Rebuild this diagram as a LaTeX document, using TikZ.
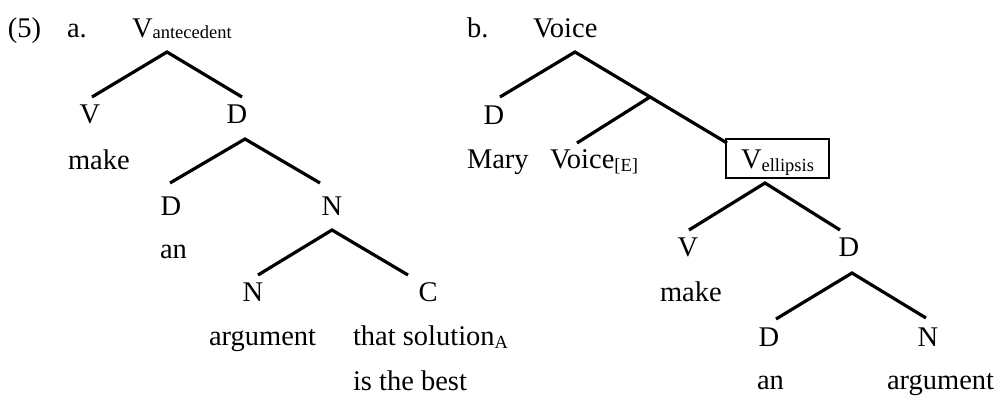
\documentclass[tikz,border=0pt]{standalone}
\usepackage{fontspec}
\setmainfont{Liberation Serif}
\newcommand\sbs[2][-3pt]{\raisebox{#1}{\fontsize{18.5}{20}\selectfont #2}}
\begin{document}
\begin{tikzpicture}[x=1pt,y=-1pt,
  txt/.style={anchor=base west,inner sep=0pt,outer sep=0pt,font=\fontsize{28.5}{34}\selectfont},
  cat/.style={anchor=base,inner sep=0pt,outer sep=0pt,font=\fontsize{28.5}{34}\selectfont},
  branch/.style={line width=3.2pt},
  ebox/.style={draw,line width=2.2pt,anchor=base west,inner xsep=15pt,inner ysep=0pt,outer sep=0pt,
    text height=29pt,text depth=10pt,minimum width=102pt,font=\fontsize{28.5}{34}\selectfont}]
\useasboundingbox (0,0) rectangle (1000,396);
% ---------- (5) a. ----------
\node[txt] (ex) at (8,37.5) {(5)};
\node[txt] (la) at (67,37.5) {a.};
\node[txt] (aroot) at (132,37.5) {V\sbs[-1pt]{antecedent}};
\node[cat] (av) at (90,123) {V};
\node[cat] (ad) at (237,123) {D};
\node[txt] (amake) at (68,169) {make};
\node[cat] (add) at (171,215) {D};
\node[cat] (an) at (332,215) {N};
\node[txt] (aan) at (160,258) {an};
\node[cat] (ann) at (253,301) {N};
\node[cat] (ac) at (428,301) {C};
\node[txt] (aarg) at (209,345) {argument};
\node[txt] (athat) at (353,345) {that solution\sbs{A}};
\node[txt] (abest) at (353,390) {is the best};
\coordinate (aT) at (167,52);
\coordinate (aTl) at (92,97);
\coordinate (aTr) at (242,97);
\coordinate (aD) at (245,139);
\coordinate (aDl) at (170,183);
\coordinate (aDr) at (320,183);
\coordinate (aN) at (332,230);
\coordinate (aNl) at (258,275);
\coordinate (aNr) at (408,275);
\draw[branch] (aTl) -- (aT) -- (aTr);
\draw[branch] (aDl) -- (aD) -- (aDr);
\draw[branch] (aNl) -- (aN) -- (aNr);
% ---------- b. ----------
\node[txt] (lb) at (467,37.5) {b.};
\node[txt] (broot) at (533,37.5) {Voice};
\node[cat] (bd) at (494,124) {D};
\node[txt] (bmary) at (467,168) {Mary};
\node[txt] (bvoice) at (550,168) {Voice\sbs{[E]}};
\node[ebox] (bbox) at (726,168) {V\sbs{ellipsis}};
\node[cat] (bv) at (688,256) {V};
\node[cat] (bdd) at (849,256) {D};
\node[txt] (bmake) at (660,301) {make};
\node[cat] (bddd) at (769,346) {D};
\node[cat] (bn) at (928,346) {N};
\node[txt] (ban) at (757,389) {an};
\node[txt] (barg) at (887,389) {argument};
\coordinate (bT) at (575,52);
\coordinate (bTl) at (500,97);
\coordinate (bTr) at (727,143);
\coordinate (bM) at (650,97);
\coordinate (bMl) at (577,143);
\coordinate (bB) at (765,183);
\coordinate (bBl) at (689,230);
\coordinate (bBr) at (840,230);
\coordinate (bD) at (852,273);
\coordinate (bDl) at (776,319);
\coordinate (bDr) at (926,318);
\draw[branch] (bTl) -- (bT) -- (bTr);
\draw[branch] (bM) -- (bMl);
\draw[branch] (bBl) -- (bB) -- (bBr);
\draw[branch] (bDl) -- (bD) -- (bDr);
\end{tikzpicture}
\end{document}
